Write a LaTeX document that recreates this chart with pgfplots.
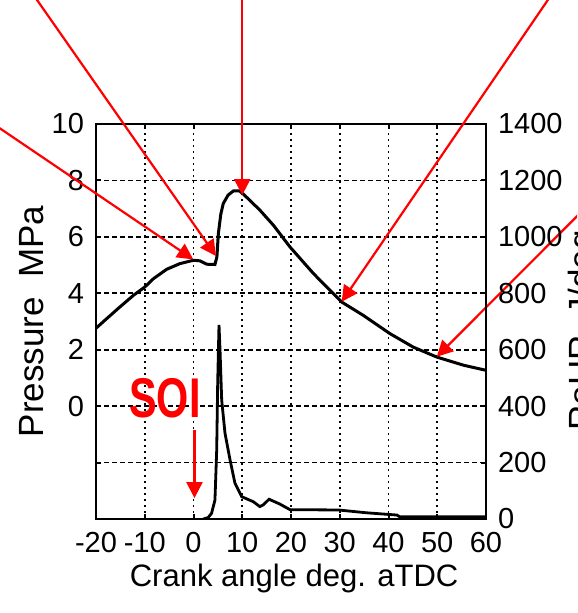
\documentclass[border=0pt]{standalone}
\usepackage{pgfplots}
\pgfplotsset{compat=1.18}
\usepackage{fontspec}
\setmainfont{Liberation Sans}
\usetikzlibrary{arrows.meta}

% pressure trace, MPa
\pgfplotstableread{
ca p
-20   2.76
-18.2 3.04
-15.2 3.50
-12.3 3.93
-10.0 4.22
-8.2  4.52
-5.5  4.85
-2.8  5.05
0.0   5.17
1.3   5.15
2.7   5.03
4.4   5.02
4.8   5.29
5.1   6.12
5.6   6.80
6.1   7.18
7.1   7.48
8.2   7.63
9.4   7.63
10.2  7.52
13.6  6.95
16.4  6.41
19.8  5.64
24.6  4.70
30.4  3.69
34.8  3.22
40.3  2.57
45.1  2.09
49.9  1.74
55.4  1.45
60.0  1.27
}\pres

% rate of heat release, J/deg
\pgfplotstableread{
ca r
2.0   0
3.0   5
3.7   20
4.4   67
4.76  245
4.96  481
5.23  688
5.44  599
5.78  422
6.46  304
7.5   209
8.5   127
9.9   79
12.3  61
13.6  44
14.3  50
15.5  70
17.7  53
19.8  33
29.7  32
35.5  22
41.7  14
42.3  8
60.0  8
}\rohr

\tikzset{redarrow/.style={red, line width=1.1pt, -{Triangle[length=8pt,width=8pt]}}}

\begin{document}
\begin{tikzpicture}
\useasboundingbox (0,0) rectangle (288.5pt,306.5pt);
\clip (0,0) rectangle (288.5pt,306.5pt);
\begin{axis}[
    at={(48pt,47pt)}, anchor=south west,
    width=195pt, height=197.5pt, scale only axis,
    xmin=-20, xmax=60, ymin=-4, ymax=10,
    xtick={-20,-10,...,60},
    xticklabels={-20,-10,0,10,20,30,40,50,60},
    ytick={-4,-2,...,10},
    yticklabels={{},{},0,2,4,6,8,10},
    xtick pos=both, ytick pos=left,
    major tick length=2.5pt,
    axis line style={line width=1pt},
    tick style={line width=1pt, black},
    xmajorgrids, ymajorgrids,
    every axis x grid/.style={black, line width=0.8pt, dash pattern=on 1pt off 2pt},
    every axis y grid/.style={black, line width=0.8pt, dash pattern=on 2.5pt off 1.5pt},
    tick label style={font=\fontsize{14.5}{17}\selectfont},
    xticklabel style={yshift=-3pt},
    yticklabel style={xshift=-2.5pt},
    xlabel={Crank angle deg. aTDC},
    xlabel style={font=\fontsize{15.5}{18}\selectfont, at={(axis description cs:0.508,-0.172)}, anchor=base},
    ylabel={Pressure\ \ MPa},
    ylabel style={font=\fontsize{17.5}{20}\selectfont, at={(axis description cs:-0.135,0.5)}, anchor=base, rotate=0},
    clip=false,
]
\addplot[black, line width=1.5pt] table[x=ca, y=p] {\pres};

% arrows pointing at the pressure trace
\draw[redarrow] (axis cs:-50,11.05) -- (axis cs:-0.04,5.20);
\draw[redarrow] (axis cs:-36.4,15.46) -- (axis cs:4.62,5.32);
\draw[redarrow] (axis cs:10.0,15.46) -- (axis cs:10.0,7.48);
\draw[redarrow] (axis cs:76.9,15.46) -- (axis cs:30.4,3.70);
\draw[redarrow] (axis cs:87.5,8.26) -- (axis cs:49.9,1.75);

\node[red, font=\fontsize{28}{30}\selectfont\bfseries] at (axis cs:-5.85,0.29) {\scalebox{0.74}[1]{SOI}};
\draw[redarrow] (axis cs:0.2,-0.85) -- (axis cs:0.2,-3.26);
\end{axis}

\begin{axis}[
    at={(48pt,47pt)}, anchor=south west,
    width=195pt, height=197.5pt, scale only axis,
    xmin=-20, xmax=60, ymin=0, ymax=1400,
    axis x line=none, axis y line*=right,
    ytick={0,200,...,1400},
    yticklabels={0,200,400,600,800,1000,1200,1400},
    ytick pos=right,
    major tick length=2.5pt,
    axis line style={line width=1pt},
    tick style={line width=1pt, black},
    tick align=inside,
    tick label style={font=\fontsize{14.5}{17}\selectfont},
    yticklabel style={xshift=2.5pt},
    ylabel={RoHR\ \ J/deg.},
    ylabel style={font=\fontsize{17.5}{20}\selectfont, at={(axis description cs:1.276,0.49)}, anchor=base, rotate=0},
]
\addplot[black, line width=1.4pt] table[x=ca, y=r] {\rohr};
\end{axis}
\end{tikzpicture}
\end{document}
